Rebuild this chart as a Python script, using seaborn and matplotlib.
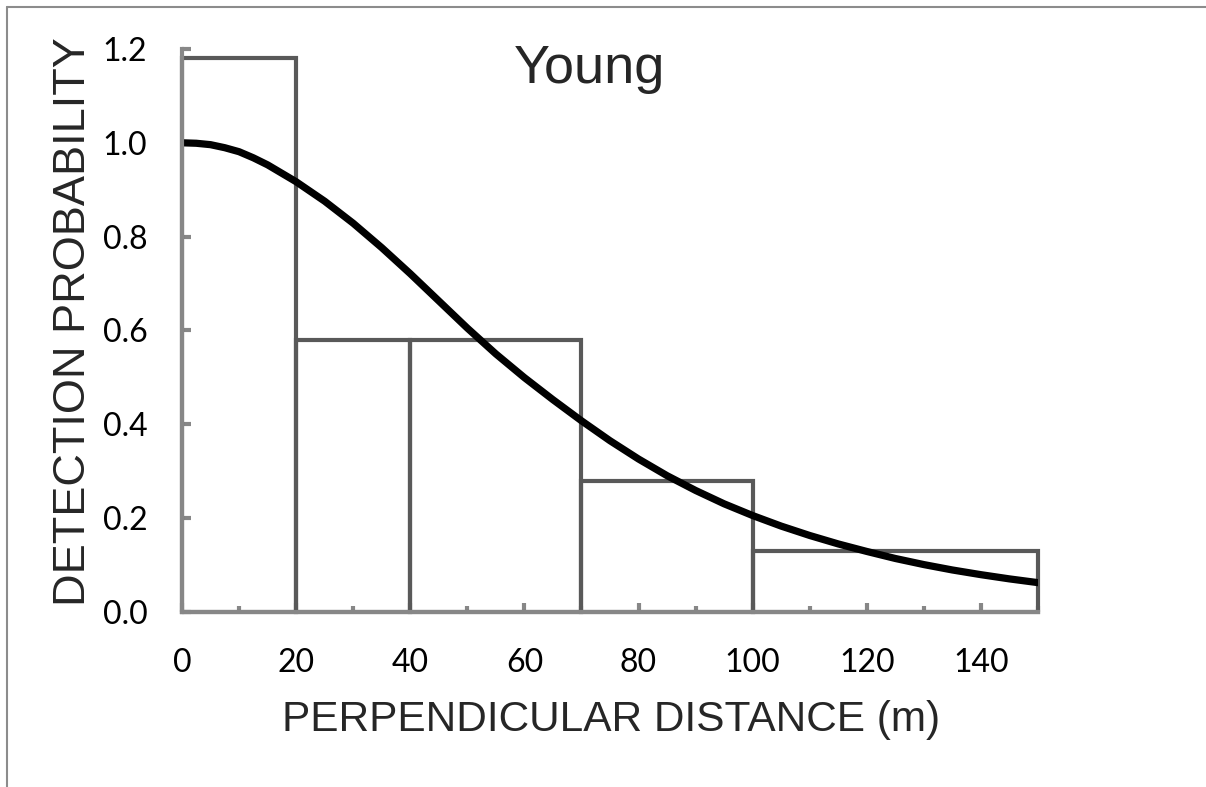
import matplotlib
matplotlib.use("Agg")
import matplotlib.pyplot as plt
import seaborn as sns
from matplotlib.lines import Line2D
from matplotlib.ticker import MultipleLocator

# datos
bin_edges = [0, 20, 40, 70, 100, 150]
bin_mid = [10, 30, 55, 85, 125]
bin_height = [1.18, 0.58, 0.58, 0.28, 0.13]

curve_x = [0, 2.5, 5, 7.5, 10, 12.5, 15, 20, 25, 30, 35, 40, 45, 50, 55, 60,
           65, 70, 75, 80, 85, 90, 95, 100, 105, 110, 115, 120, 125, 130, 135,
           140, 145, 150]
curve_y = [1.000, 0.999, 0.996, 0.9895, 0.981, 0.968, 0.953, 0.917, 0.8755,
           0.8285, 0.7765, 0.721, 0.663, 0.605, 0.550, 0.4995, 0.4525, 0.4075,
           0.365, 0.326, 0.2905, 0.259, 0.2305, 0.2055, 0.183, 0.163, 0.145,
           0.129, 0.114, 0.101, 0.0895, 0.0795, 0.0705, 0.0625]

xticks = [0, 20, 40, 60, 80, 100, 120, 140]
xtick_labels = ["0", "20", "40", "60", "80", "100", "120", "140"]
yticks = [0.0, 0.2, 0.4, 0.6, 0.8, 1.0, 1.2]
ytick_labels = ["0.0", "0.2", "0.4", "0.6", "0.8", "1.0", "1.2"]

sns.set_style("white")

fig = plt.figure(figsize=(12.06, 7.87), dpi=100)
ax = fig.add_axes([0.1509, 0.2224, 0.7098, 0.7154])

# barras (histograma con pesos)
sns.histplot(x=bin_mid, weights=bin_height, bins=bin_edges, fill=False,
             color="#595959", linewidth=3, ax=ax)
for p in ax.patches:
    p.set_clip_on(False)

# curva de deteccion
sns.lineplot(x=curve_x, y=curve_y, color="black", linewidth=5.2, ax=ax)

ax.set_xlim(0, 150)
ax.set_ylim(0, 1.2)
ax.set_xticks(xticks)
ax.set_xticklabels(xtick_labels)
ax.set_yticks(yticks)
ax.set_yticklabels(ytick_labels)
ax.xaxis.set_minor_locator(MultipleLocator(10))

for side in ["top", "right"]:
    ax.spines[side].set_visible(False)
for side in ["left", "bottom"]:
    ax.spines[side].set_color("#878787")
    ax.spines[side].set_linewidth(3)

ax.tick_params(axis="both", which="both", bottom=True, left=True)
ax.tick_params(axis="both", which="major", direction="in", length=6.5,
               width=3, color="#878787", labelsize=23, labelcolor="black")
ax.tick_params(axis="x", which="minor", direction="in", length=4.5,
               width=3, color="#878787")
ax.tick_params(axis="x", which="major", pad=26)
ax.tick_params(axis="y", which="major", pad=25)
for lab in ax.get_xticklabels() + ax.get_yticklabels():
    lab.set_fontfamily("Lato")

ax.set_xlabel("PERPENDICULAR DISTANCE (m)", fontsize=30.5,
              fontfamily="Liberation Sans")
ax.set_ylabel("DETECTION PROBABILITY", fontsize=32.5,
              fontfamily="Liberation Sans")
ax.xaxis.set_label_coords(0.501, -0.156)
ax.yaxis.set_label_coords(-0.103, 0.516)

ax.text(0.4755, 0.9396, "Young", transform=ax.transAxes, ha="center",
        va="baseline", fontsize=39, fontfamily="Liberation Sans")

# marco de la figura
fig.add_artist(Line2D([0.0062, 1.0], [0.9917, 0.9917], color="#8c8c8c",
                      linewidth=1.5, transform=fig.transFigure))
fig.add_artist(Line2D([0.0062, 0.0062], [0.0, 0.9917], color="#8c8c8c",
                      linewidth=1.5, transform=fig.transFigure))

fig.savefig("out.png", dpi=100)
